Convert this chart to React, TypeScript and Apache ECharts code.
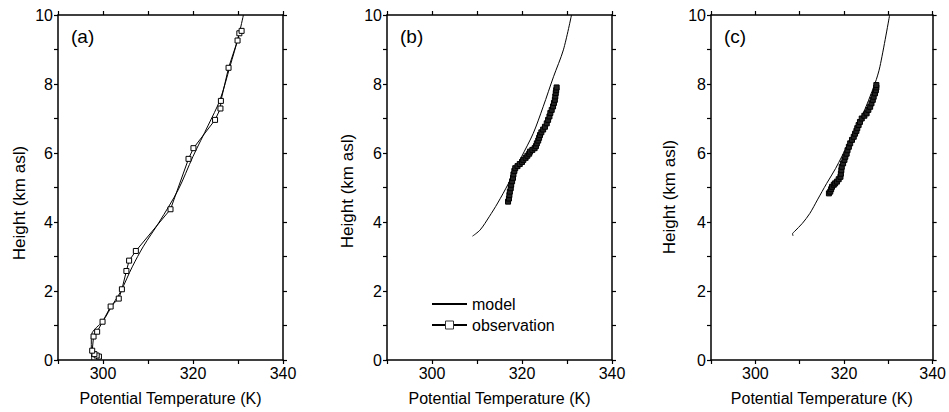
import React, { useEffect, useRef } from "react";
import * as echarts from "echarts";

// Panel (a)
const modelTempA = [297.5, 297.4, 297.4, 297.6, 298.6, 299.9, 302.3, 304.0, 306.5, 309.0, 312.5, 316.7, 320.0, 323.4, 326.0, 328.2, 330.1, 331.2];
const modelHeightA = [0.0, 0.3, 0.6, 0.79, 0.95, 1.11, 1.64, 2.0, 2.7, 3.3, 4.0, 4.93, 5.9, 6.81, 7.54, 8.5, 9.37, 10.0];
const obsTempA = [299.1, 298.6, 298.1, 297.6, 297.9, 298.7, 299.9, 301.7, 303.5, 304.2, 305.2, 305.8, 307.3, 315.0, 319.0, 320.1, 324.9, 326.1, 326.2, 327.9, 329.9, 330.3, 330.8];
const obsHeightA = [0.10, 0.13, 0.17, 0.27, 0.68, 0.82, 1.11, 1.55, 1.78, 2.05, 2.58, 2.88, 3.16, 4.37, 5.83, 6.14, 6.96, 7.29, 7.51, 8.47, 9.26, 9.47, 9.54];

// Panel (b)
const modelTempB = [309.0, 310.7, 312.7, 314.6, 317.0, 319.9, 322.5, 324.7, 327.0, 329.2, 331.0];
const modelHeightB = [3.59, 3.77, 4.15, 4.55, 5.12, 5.89, 6.57, 7.34, 8.21, 8.99, 10.0];
const obsTempB = [316.9, 317.1, 317.2, 317.3, 317.5, 317.6, 317.8, 318.0, 318.1, 318.3, 318.5, 319.0, 319.5, 320.0, 320.3, 320.8, 321.2, 321.6, 321.8, 322.3, 322.8, 323.1, 323.3, 323.6, 323.8, 324.0, 324.3, 324.7, 325.1, 325.5, 325.8, 326.1, 326.3, 326.6, 326.9, 327.1, 327.3, 327.4, 327.5, 327.6, 327.7];
const obsHeightB = [4.59, 4.68, 4.78, 4.88, 4.98, 5.08, 5.18, 5.28, 5.38, 5.48, 5.56, 5.62, 5.68, 5.74, 5.80, 5.86, 5.92, 5.98, 6.04, 6.09, 6.14, 6.20, 6.28, 6.36, 6.44, 6.52, 6.60, 6.68, 6.76, 6.86, 6.96, 7.06, 7.16, 7.25, 7.35, 7.45, 7.54, 7.64, 7.74, 7.82, 7.90];

// Panel (c)
const modelTempC = [308.5, 308.4, 308.8, 310.6, 312.3, 314.0, 316.1, 318.1, 321.0, 324.0, 327.0, 328.1, 330.3];
const modelHeightC = [3.60, 3.66, 3.72, 3.96, 4.25, 4.64, 5.12, 5.55, 6.28, 7.05, 8.02, 8.50, 10.0];
const obsTempC = [316.6, 316.9, 317.1, 317.3, 317.7, 318.0, 318.4, 318.8, 319.2, 319.3, 319.4, 319.5, 319.8, 320.1, 320.3, 320.6, 320.8, 321.1, 321.4, 321.8, 322.2, 322.5, 322.8, 323.0, 323.3, 323.6, 324.0, 324.6, 325.1, 325.5, 325.9, 326.2, 326.5, 326.7, 327.0, 327.2, 327.3, 327.3];
const obsHeightC = [4.83, 4.88, 4.95, 5.02, 5.08, 5.12, 5.17, 5.24, 5.31, 5.40, 5.50, 5.60, 5.70, 5.80, 5.89, 5.98, 6.08, 6.18, 6.28, 6.38, 6.47, 6.56, 6.64, 6.72, 6.81, 6.90, 7.00, 7.08, 7.15, 7.25, 7.34, 7.44, 7.54, 7.63, 7.73, 7.82, 7.90, 7.97];

const panelLabels = ["(a)", "(b)", "(c)"];
const xTickLabels = [300, 320, 340];
const yTickLabels = [0, 2, 4, 6, 8, 10];
const xName = "Potential Temperature (K)";
const yName = "Height (km asl)";

const FONT = "'Liberation Sans', Arial, Helvetica, sans-serif";

const zip = (xs: number[], ys: number[]) => xs.map((x, i) => [x, ys[i]]);

export default function App() {
  const ref = useRef<HTMLDivElement>(null);
  useEffect(() => {
    if (!ref.current) return;
    const chart = echarts.init(ref.current, null, { renderer: "svg" });
    const grids = [
      { left: 58, top: 15, width: 225, height: 345 },
      { left: 387, top: 15, width: 225, height: 345 },
      { left: 711, top: 15, width: 224, height: 345 },
    ];
    const yTitlePos = [
      { x: 19.5, y: 203 },
      { x: 347, y: 191 },
      { x: 669.5, y: 197 },
    ];
    const axisLine = { show: true, onZero: false, lineStyle: { color: "#000", width: 1.5 } };
    const axisTick = { show: true, inside: false, length: 4, lineStyle: { color: "#000", width: 1.2 } };
    const xAxes: any[] = [];
    const yAxes: any[] = [];
    grids.forEach((g, i) => {
      xAxes.push({
        type: "value", gridIndex: i, position: "bottom", min: 290, max: 340, interval: 10,
        axisLine, axisTick, splitLine: { show: false },
        axisLabel: {
          fontSize: 16, color: "#000", fontFamily: FONT, margin: 5,
          formatter: (v: number) => (xTickLabels.includes(v) ? String(v) : ""),
        },
        name: xName, nameLocation: "middle", nameGap: 30,
        nameTextStyle: { fontSize: 16, color: "#000", fontFamily: FONT },
      });
      xAxes.push({
        type: "value", gridIndex: i, position: "top", min: 290, max: 340, interval: 10,
        axisLine, axisTick, splitLine: { show: false }, axisLabel: { show: false },
      });
      yAxes.push({
        type: "value", gridIndex: i, position: "left", min: 0, max: 10, interval: 1,
        axisLine, axisTick, splitLine: { show: false },
        axisLabel: {
          fontSize: 16, color: "#000", fontFamily: FONT, margin: 5,
          formatter: (v: number) => (yTickLabels.includes(v) ? String(v) : ""),
        },
      });
      yAxes.push({
        type: "value", gridIndex: i, position: "right", min: 0, max: 10, interval: 1,
        axisLine, axisTick, splitLine: { show: false }, axisLabel: { show: false },
      });
    });

    const modelSeries = (idx: number, data: number[][]) => ({
      name: "model", type: "line", xAxisIndex: idx * 2, yAxisIndex: idx * 2,
      data, smooth: 0.3, showSymbol: false, symbol: "none",
      lineStyle: { color: "#000", width: 1 }, itemStyle: { color: "#000" },
    });
    const obsSeries = (idx: number, data: number[][], dense: boolean) => ({
      name: "observation", type: "line", xAxisIndex: idx * 2, yAxisIndex: idx * 2,
      data, symbol: "rect", symbolSize: 5, showSymbol: true,
      lineStyle: { color: "#000", width: 1 },
      itemStyle: dense
        ? { color: "#222", borderColor: "#000", borderWidth: 1 }
        : { color: "#fff", borderColor: "#000", borderWidth: 1 },
    });

    const graphics: any[] = [];
    panelLabels.forEach((t, i) => {
      graphics.push({
        type: "text", left: grids[i].left + 13, top: 27,
        style: { text: t, fontSize: 19, fill: "#000", fontFamily: FONT },
      });
      graphics.push({
        type: "text", x: yTitlePos[i].x, y: yTitlePos[i].y, rotation: Math.PI / 2,
        style: {
          text: yName, fontSize: 17, fill: "#000", fontFamily: FONT,
          align: "center", verticalAlign: "middle",
        },
      });
    });

    chart.setOption({
      animation: false,
      backgroundColor: "#fff",
      grid: grids,
      xAxis: xAxes,
      yAxis: yAxes,
      legend: {
        left: 426, top: 291, orient: "vertical", itemGap: 5, itemWidth: 35, itemHeight: 10,
        selectedMode: false,
        textStyle: { fontSize: 16, color: "#000", fontFamily: FONT },
        data: [
          { name: "model", itemStyle: { opacity: 0 } },
          { name: "observation", itemStyle: { color: "#fff", borderColor: "#333", borderWidth: 1 } },
        ],
      },
      graphic: graphics,
      series: [
        modelSeries(0, zip(modelTempA, modelHeightA)),
        obsSeries(0, zip(obsTempA, obsHeightA), false),
        modelSeries(1, zip(modelTempB, modelHeightB)),
        obsSeries(1, zip(obsTempB, obsHeightB), true),
        modelSeries(2, zip(modelTempC, modelHeightC)),
        obsSeries(2, zip(obsTempC, obsHeightC), true),
      ],
    });
    return () => chart.dispose();
  }, []);
  return (
    <div
      ref={ref}
      style={{ position: "fixed", left: 0, top: 0, width: 949, height: 412, background: "#fff" }}
    />
  );
}
